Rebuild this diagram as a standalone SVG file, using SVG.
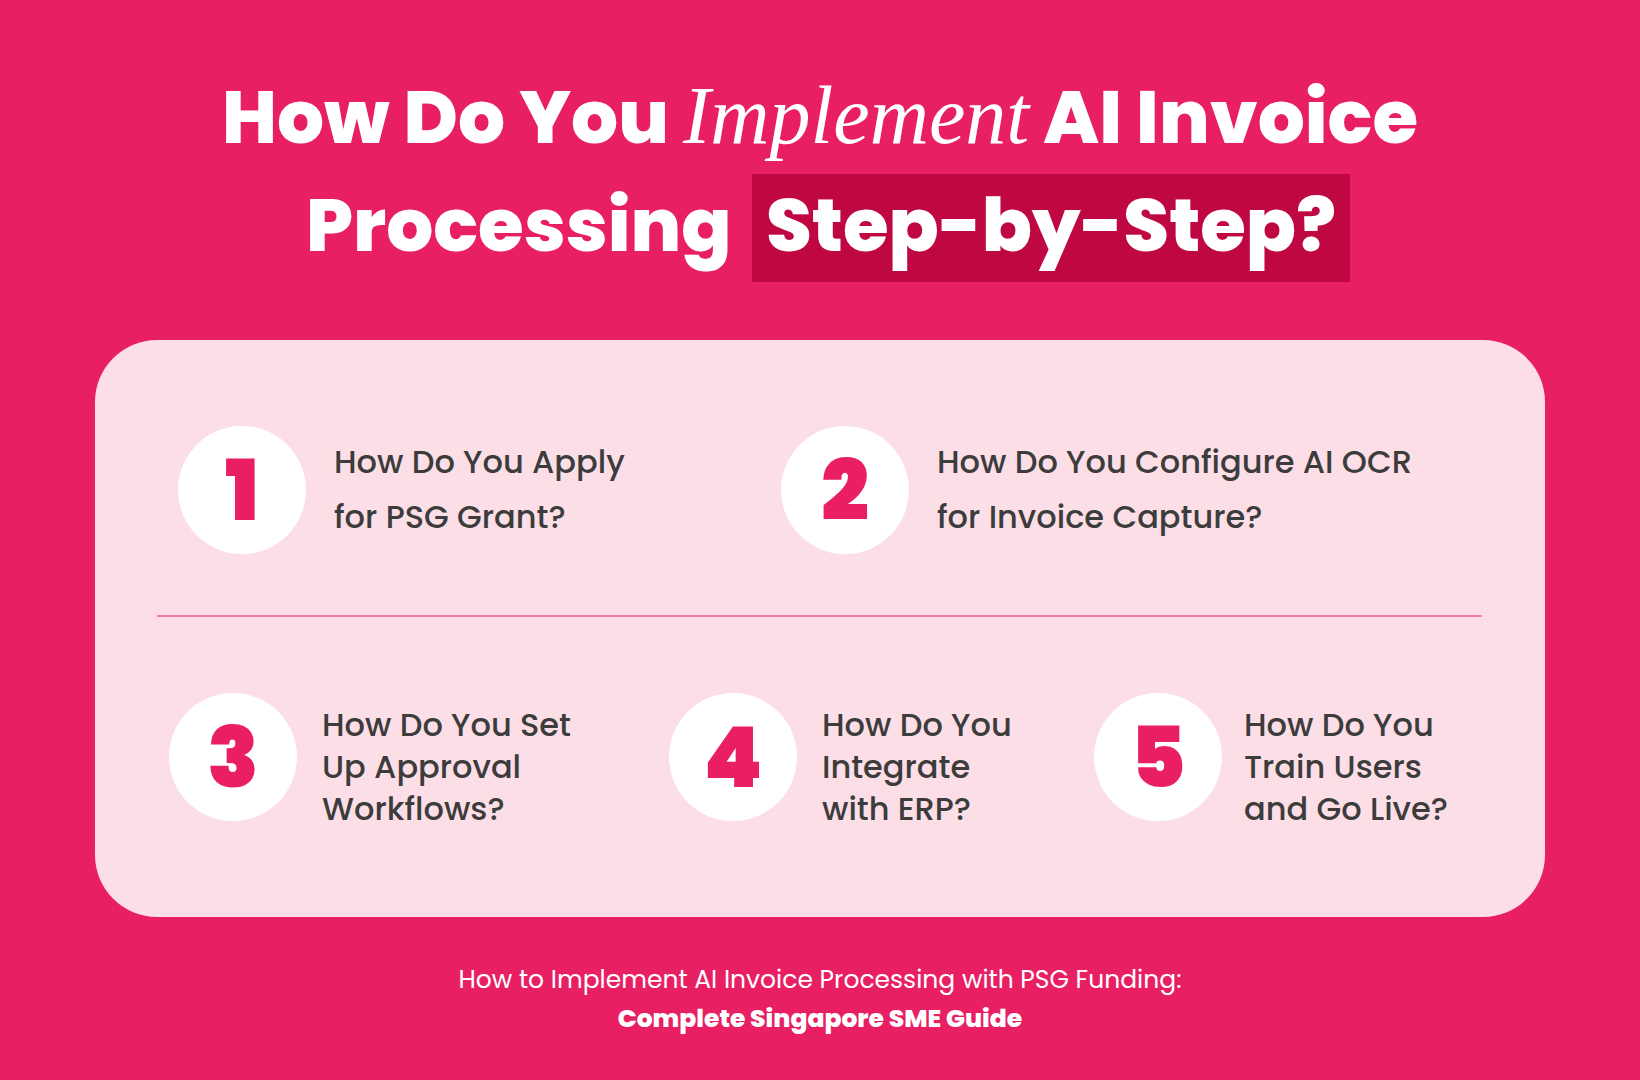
<svg xmlns="http://www.w3.org/2000/svg" width="1640" height="1080" viewBox="0 0 1640 1080">
<style>
.t{font-family:Poppins,Inter,"Liberation Sans",sans-serif;font-weight:800;fill:#fff;font-size:74px}
.s{font-family:"Liberation Serif",serif;font-style:italic;font-weight:400}
.c{fill:#fff}
.n{font-family:Poppins,Inter,"Liberation Sans",sans-serif;font-weight:900;fill:#E91E63;font-size:84px;text-anchor:middle}
.l{font-family:Poppins,Inter,"Liberation Sans",sans-serif;font-weight:500;fill:#3c3c3c;font-size:32px}
.f{font-family:Poppins,Inter,"Liberation Sans",sans-serif;fill:#fff;font-size:25px;text-anchor:middle}
</style>
<rect width="1640" height="1080" fill="#E91F63"/>
<g id="title">
<rect x="752" y="174" width="598" height="108" fill="#BF0842"/>
<text class="t" x="820" y="143" text-anchor="middle">How Do You <tspan class="s" font-size="82">Implement</tspan> AI Invoice</text>
<text class="t" x="306" y="251">Processing</text>
<text class="t" x="1051" y="251" text-anchor="middle">Step-by-Step?</text>
</g>
<rect x="95" y="340" width="1450" height="577" rx="62" fill="#FCDEE6"/>
<line x1="157" y1="616" x2="1482" y2="616" stroke="#E91E63" stroke-width="1"/>
<g id="step1"><circle class="c" cx="242" cy="490" r="64"/><text class="n" x="242" y="520">1</text>
<text class="l" x="334" y="473">How Do You Apply</text><text class="l" x="334" y="528">for PSG Grant?</text></g>
<g id="step2"><circle class="c" cx="845" cy="490" r="64"/><text class="n" x="845" y="520">2</text>
<text class="l" x="937" y="473">How Do You Configure AI OCR</text><text class="l" x="937" y="528">for Invoice Capture?</text></g>
<g id="step3"><circle class="c" cx="233" cy="757" r="64"/><text class="n" x="233" y="787">3</text>
<text class="l" x="322" y="736">How Do You Set</text><text class="l" x="322" y="778">Up Approval</text><text class="l" x="322" y="820">Workflows?</text></g>
<g id="step4"><circle class="c" cx="733" cy="757" r="64"/><text class="n" x="733" y="787">4</text>
<text class="l" x="822" y="736">How Do You</text><text class="l" x="822" y="778">Integrate</text><text class="l" x="822" y="820">with ERP?</text></g>
<g id="step5"><circle class="c" cx="1158" cy="757" r="64"/><text class="n" x="1158" y="787">5</text>
<text class="l" x="1244" y="736">How Do You</text><text class="l" x="1244" y="778">Train Users</text><text class="l" x="1244" y="820">and Go Live?</text></g>
<g id="footer">
<text class="f" x="820" y="988">How to Implement AI Invoice Processing with PSG Funding:</text>
<text class="f" x="820" y="1027" font-weight="800">Complete Singapore SME Guide</text>
</g>
</svg>
